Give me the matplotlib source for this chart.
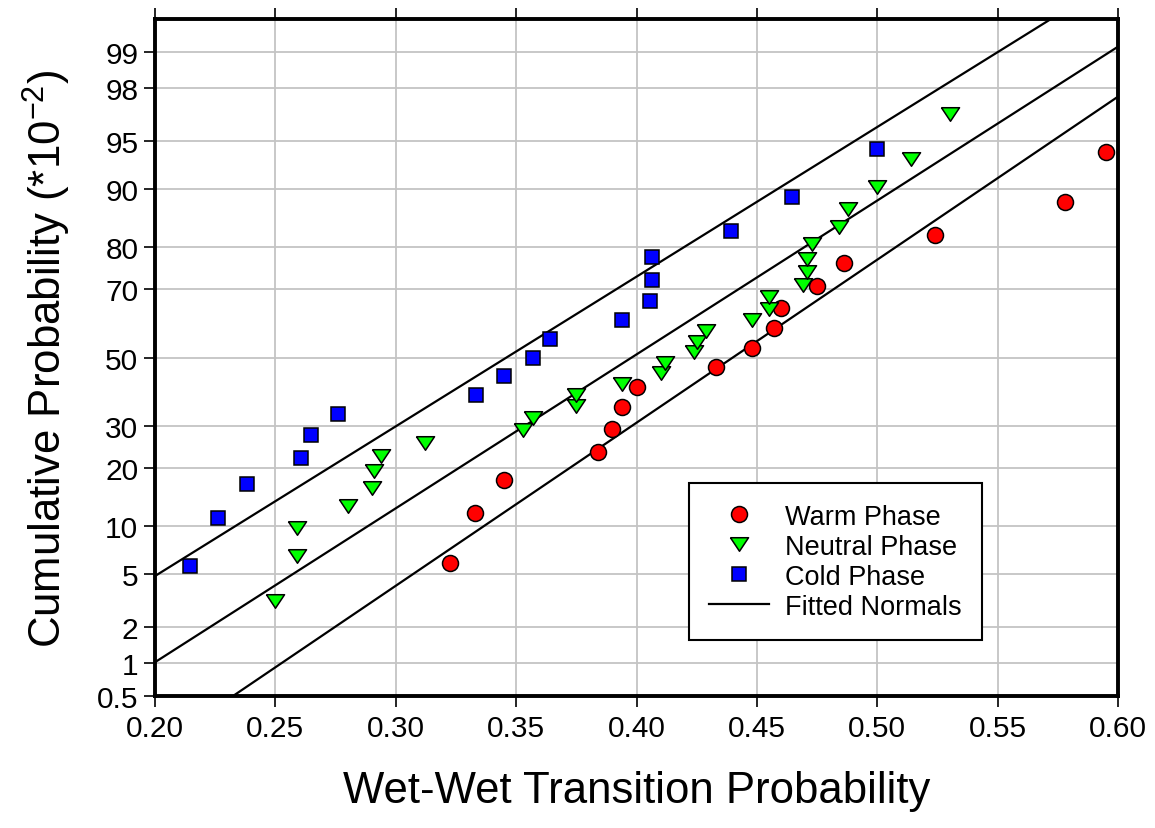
"""Normal probability plot of the wet-wet transition probability for the
warm, neutral and cold phases, with the fitted normal distributions.
"""

from statistics import NormalDist

import numpy as np
import matplotlib
matplotlib.use('Agg')
import matplotlib.pyplot as plt

plt.rcParams['font.family'] = ['Liberation Sans', 'DejaVu Sans']

# data: transition probability and cumulative prob (%)
warm_x = [0.3225, 0.333, 0.345, 0.384, 0.390, 0.394, 0.400, 0.433, 0.448,
          0.457, 0.460, 0.475, 0.486, 0.524, 0.578, 0.595]
warm_p = [5.9, 11.8, 17.6, 23.5, 29.4, 35.3, 41.2, 47.1, 52.9, 58.8, 64.7,
          70.6, 76.5, 82.4, 88.2, 94.1]

neutral_x = [0.250, 0.259, 0.259, 0.280, 0.290, 0.291, 0.294, 0.312, 0.353,
             0.357, 0.375, 0.375, 0.394, 0.410, 0.412, 0.424, 0.425, 0.429,
             0.448, 0.455, 0.455, 0.469, 0.471, 0.471, 0.473, 0.484, 0.488,
             0.500, 0.514, 0.530]
neutral_p = [3.2, 6.5, 9.7, 12.9, 16.1, 19.4, 22.6, 25.8, 29.0, 32.3, 35.5,
             38.7, 41.9, 45.2, 48.4, 51.6, 54.8, 58.1, 61.3, 64.5, 67.7, 71.0,
             74.2, 77.4, 80.6, 83.9, 87.1, 90.3, 93.5, 96.8]

cold_x = [0.2144, 0.2261, 0.2383, 0.2608, 0.2646, 0.2760, 0.3333, 0.3449,
          0.3572, 0.3639, 0.3940, 0.4056, 0.4063, 0.4063, 0.4393, 0.4646,
          0.5000]
cold_p = [5.6, 11.1, 16.7, 22.2, 27.8, 33.3, 38.9, 44.4, 50.0, 55.6, 61.1,
          66.7, 72.2, 77.8, 83.3, 88.9, 94.4]

# fitted normals (mean, std) for cold, neutral, warm
fit_mean = [0.346, 0.398, 0.440]
fit_std = [0.0878, 0.0854, 0.0806]

x_ticks = [0.20, 0.25, 0.30, 0.35, 0.40, 0.45, 0.50, 0.55, 0.60]
y_ticks = [0.5, 1, 2, 5, 10, 20, 30, 50, 70, 80, 90, 95, 98, 99]
y_tick_labels = ['0.5', '1', '2', '5', '10', '20', '30', '50', '70', '80',
                 '90', '95', '98', '99']

STD_NORMAL = NormalDist()


def prob_forward(p):
    """Percent -> standard normal quantile (probit scale)."""
    p = np.clip(np.asarray(p, dtype=float), 1e-7, 100 - 1e-7)
    return np.vectorize(STD_NORMAL.inv_cdf, otypes=[float])(p / 100.0)


def prob_inverse(z):
    """Standard normal quantile -> percent."""
    z = np.asarray(z, dtype=float)
    return np.vectorize(STD_NORMAL.cdf, otypes=[float])(z) * 100.0


fig = plt.figure(figsize=(11.55, 8.29), dpi=100)
ax = fig.add_axes([0.1342, 0.1592, 0.968 - 0.1342, 0.9759 - 0.1592])
ax.set_yscale('function', functions=(prob_forward, prob_inverse))

ax.set_xlim(0.20, 0.60)
ax.set_ylim(0.5, 99.5)
ax.set_xticks(x_ticks)
ax.set_xticklabels(['%.2f' % t for t in x_ticks])
ax.set_yticks(y_ticks)
ax.set_yticklabels(y_tick_labels)
ax.yaxis.set_minor_locator(matplotlib.ticker.NullLocator())
ax.grid(True, color='#c4c4c4', linewidth=1.3, zorder=0)
ax.set_axisbelow(True)

x_line = np.linspace(0.15, 0.65, 300)
line_handle = None
for mean, std in zip(fit_mean, fit_std):
    p_line = [NormalDist(mean, std).cdf(x) * 100 for x in x_line]
    line_handle, = ax.plot(x_line, p_line, color='black', linewidth=1.6,
                           zorder=2)

tri = [(-1, 0.75), (1, 0.75), (0, -0.75), (-1, 0.75)]
warm_handle, = ax.plot(warm_x, warm_p, linestyle='none', marker='o',
                       markersize=11.5, markerfacecolor='#ff0000',
                       markeredgecolor='black', markeredgewidth=1.1, zorder=3)
neutral_handle, = ax.plot(neutral_x, neutral_p, linestyle='none', marker=tri,
                          markersize=13, markerfacecolor='#00ff00',
                          markeredgecolor='black', markeredgewidth=1.1,
                          zorder=3)
cold_handle, = ax.plot(cold_x, cold_p, linestyle='none', marker='s',
                       markersize=10.5, markerfacecolor='#0000ff',
                       markeredgecolor='black', markeredgewidth=1.1, zorder=3)

for spine in ax.spines.values():
    spine.set_linewidth(2.8)
ax.tick_params(axis='x', which='major', direction='out', length=8, width=1.2,
               top=True, labelsize=21.5, pad=5)
ax.tick_params(axis='y', which='major', direction='out', length=8, width=1.2,
               labelsize=21.5, pad=4)

ax.set_xlabel('Wet-Wet Transition Probability', fontsize=31.5, labelpad=20)
ax.set_ylabel('Cumulative Probability (*10$^{\\mathregular{-2}}$)',
              fontsize=31.5, labelpad=17)

legend = ax.legend([warm_handle, neutral_handle, cold_handle, line_handle],
                   ['Warm Phase', 'Neutral Phase', 'Cold Phase',
                    'Fitted Normals'],
                   loc='lower left', bbox_to_anchor=(0.5545, 0.0827),
                   borderaxespad=0, fontsize=19.5, fancybox=False,
                   edgecolor='black', framealpha=1, handlelength=2.2,
                   handletextpad=0.6, labelspacing=0.15, borderpad=0.75)
legend.get_frame().set_linewidth(1.5)

fig.savefig('out.png', dpi=100)
